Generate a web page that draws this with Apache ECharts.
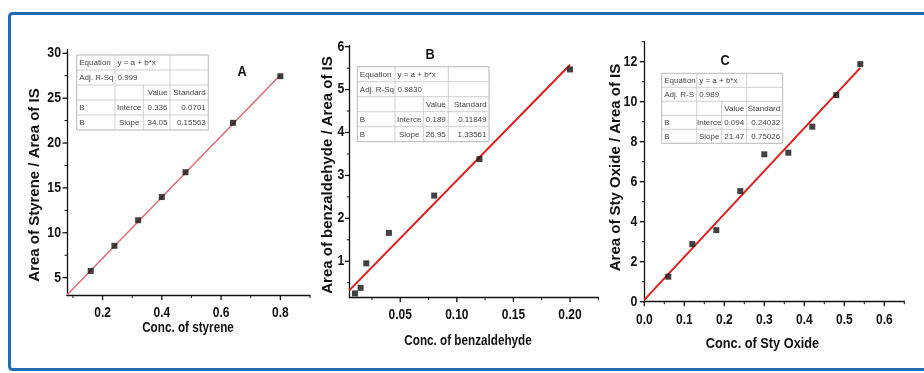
<!DOCTYPE html>
<html><head><meta charset="utf-8">
<script src="https://cdn.jsdelivr.net/npm/echarts@6/dist/echarts.min.js"></script>
<style>html,body{margin:0;padding:0;background:#fff}#c{width:924px;height:373px}</style>
</head><body><div id="c"></div>
<script>
// ---------- data ----------
const styreneConc  = [0.16, 0.24, 0.32, 0.40, 0.48, 0.64, 0.80];
const styreneRatio = [5.75, 8.55, 11.4, 13.98, 16.75, 22.25, 27.45];
const styreneFitX  = [0.08, 0.80];
const styreneFitY  = [3.06, 27.58];

const benzConc  = [0.010, 0.015, 0.020, 0.040, 0.080, 0.120, 0.200];
const benzRatio = [0.25, 0.38, 0.95, 1.66, 2.53, 3.38, 5.47];
const benzFitX  = [0.005, 0.20];
const benzFitY  = [0.32, 5.58];

const oxideConc  = [0.06, 0.12, 0.18, 0.24, 0.30, 0.36, 0.42, 0.48, 0.54];
const oxideRatio = [1.25, 2.88, 3.58, 5.53, 7.37, 7.45, 8.75, 10.33, 11.88];
const oxideFitX  = [0, 0.54];
const oxideFitY  = [0.094, 11.69];

// tick values
const ticksAx = [0.2, 0.4, 0.6, 0.8];
const minorAx = [0.1, 0.3, 0.5, 0.7, 0.9];
const ticksAy = [5, 10, 15, 20, 25, 30];
const minorAy = [7.5, 12.5, 17.5, 22.5, 27.5];
const ticksBx = [0.05, 0.10, 0.15, 0.20];
const minorBx = [0.025, 0.075, 0.125, 0.175, 0.225];
const ticksBy = [1, 2, 3, 4, 5, 6];
const minorBy = [0.5, 1.5, 2.5, 3.5, 4.5, 5.5];
const ticksCx = [0, 0.1, 0.2, 0.3, 0.4, 0.5, 0.6];
const minorCx = [0.05, 0.15, 0.25, 0.35, 0.45, 0.55, 0.65];
const ticksCy = [0, 2, 4, 6, 8, 10, 12];
const minorCy = [1, 3, 5, 7, 9, 11, 13];

// text
const panelLetters = ['A', 'B', 'C'];
const xTitles = ['Conc. of styrene', 'Conc. of benzaldehyde', 'Conc. of Sty Oxide'];
const yTitles = ['Area of Styrene / Area of IS', 'Area of benzaldehyde / Area of IS', 'Area of Sty Oxide / Area of IS'];

const tableA = [['Equation', 'y = a + b*x', '', ''], ['Adj. R-Sq', '0.999', '', ''], ['', '', 'Value', 'Standard'], ['B', 'Interce', '0.336', '0.0701'], ['B', 'Slope', '34.05', '0.15563']];
const tableB = [['Equation', 'y = a + b*x', '', ''], ['Adj. R-Sq', '0.9830', '', ''], ['', '', 'Value', 'Standard'], ['B', 'Interce', '0.189', '0.11849'], ['B', 'Slope', '26.95', '1.33561']];
const tableC = [['Equation', 'y = a + b*x', '', ''], ['Adj. R-S', '0.989', '', ''], ['', '', 'Value', 'Standard'], ['B', 'Interce', '0.094', '0.24032'], ['B', 'Slope', '21.47', '0.75026']];

// ---------- layout ----------
const FONT = "'Liberation Sans', Arial, sans-serif";
const grids = [
  {left: 67, top: 49.7, width: 243, height: 245.9},
  {left: 349.3, top: 45.4, width: 249, height: 252.3},
  {left: 644.3, top: 41.7, width: 260, height: 260}
];
const ranges = [
  {x: [0.08, 0.9], y: [3, 30.4]},
  {x: [0.005, 0.225], y: [0.15, 6.03]},
  {x: [0, 0.65], y: [0, 13]}
];
const majors = [[ticksAx, ticksAy], [ticksBx, ticksBy], [ticksCx, ticksCy]];
const minors = [[minorAx, minorAy], [minorBx, minorBy], [minorCx, minorCy]];
const xFmt = [v => v.toFixed(1), v => v.toFixed(2), v => v.toFixed(1)];
const xLabelMargin = [10, 10, 11];
const yLabelMargin = [6, 5, 7];
const xTitlePos = [[188, 327.5, 0.78], [468, 340.5, 0.78], [762.5, 343.5, 0.85]];
const yTitlePos = [[35, 185], [327.5, 175], [615.5, 167.5]];
const letterPos = [[242, 72], [430, 55], [725, 61]];

const gridOpt = grids.map(g => Object.assign({containLabel: false}, g));
const xAxes = [], yAxes = [];
for (let i = 0; i < 3; i++) {
  xAxes.push({
    type: 'value', gridIndex: i, min: ranges[i].x[0], max: ranges[i].x[1],
    splitLine: {show: false},
    axisLine: {show: true, onZero: false, lineStyle: {color: '#111', width: 1.3}},
    axisTick: {show: false}, axisLabel: {show: false}
  });
  yAxes.push({
    type: 'value', gridIndex: i, min: ranges[i].y[0], max: ranges[i].y[1],
    splitLine: {show: false},
    axisLine: {show: true, onZero: false, lineStyle: {color: '#111', width: 1.3}},
    axisTick: {show: false}, axisLabel: {show: false}
  });
}

function pairs(xs, ys) { return xs.map((x, k) => [x, ys[k]]); }

const series = [
  {type: 'line', xAxisIndex: 0, yAxisIndex: 0, data: pairs(styreneFitX, styreneFitY), symbol: 'none', lineStyle: {color: '#e46a6c', width: 1.5}, z: 2, silent: true},
  {type: 'line', xAxisIndex: 1, yAxisIndex: 1, data: pairs(benzFitX, benzFitY), symbol: 'none', lineStyle: {color: '#e31b1b', width: 2}, z: 2, silent: true},
  {type: 'line', xAxisIndex: 2, yAxisIndex: 2, data: pairs(oxideFitX, oxideFitY), symbol: 'none', lineStyle: {color: '#e31b1b', width: 2}, z: 2, silent: true},
  {type: 'scatter', xAxisIndex: 0, yAxisIndex: 0, data: pairs(styreneConc, styreneRatio), symbol: 'rect', symbolSize: 6, itemStyle: {color: '#111'}, z: 3},
  {type: 'scatter', xAxisIndex: 1, yAxisIndex: 1, data: pairs(benzConc, benzRatio), symbol: 'rect', symbolSize: 6, itemStyle: {color: '#111'}, z: 3},
  {type: 'scatter', xAxisIndex: 2, yAxisIndex: 2, data: pairs(oxideConc, oxideRatio), symbol: 'rect', symbolSize: 6, itemStyle: {color: '#111'}, z: 3}
];

const chart = echarts.init(document.getElementById('c'), null, {renderer: 'canvas'});
chart.setOption({
  animation: false,
  backgroundColor: '#fff',
  grid: gridOpt,
  xAxis: xAxes,
  yAxis: yAxes,
  series: series
});

// ---------- annotation tables (Origin fit report boxes) ----------
function buildTable(rows, cols, top, rowH) {
  const els = [];
  const left = cols[0], right = cols[cols.length - 1], bottom = top + rowH * rows.length;
  const line = '#c4c4c4';
  els.push({type: 'rect', shape: {x: left, y: top, width: right - left, height: bottom - top}, style: {fill: '#fff', stroke: '#b8b8b8', lineWidth: 1}, z: 10});
  for (let r = 1; r < rows.length; r++) {
    els.push({type: 'line', shape: {x1: left, y1: top + r * rowH, x2: right, y2: top + r * rowH}, style: {stroke: line, lineWidth: 0.8}, z: 11});
  }
  [1, 3].forEach(c => els.push({type: 'line', shape: {x1: cols[c], y1: top, x2: cols[c], y2: bottom}, style: {stroke: line, lineWidth: 0.8}, z: 11}));
  els.push({type: 'line', shape: {x1: cols[2], y1: top + 2 * rowH, x2: cols[2], y2: bottom}, style: {stroke: line, lineWidth: 0.8}, z: 11});
  rows.forEach((row, r) => {
    row.forEach((txt, c) => {
      if (!txt) return;
      let x, align;
      if (c === 0 || r < 2) { x = cols[c] + 2.5; align = 'left'; }
      else if (c === 1) { x = (cols[1] + cols[2]) / 2; align = 'center'; }
      else { x = cols[c + 1] - 2.5; align = 'right'; }
      els.push({type: 'text', x: x, y: top + r * rowH + rowH / 2 + 0.5, z: 12,
        style: {text: txt, fill: '#444', font: '8px ' + FONT, align: align, verticalAlign: 'middle'}});
    });
  });
  return els;
}

// ---------- ticks and tick labels placed through the axes' own scales ----------
const axisEls = [];
for (let i = 0; i < 3; i++) {
  const axisY = chart.convertToPixel({yAxisIndex: i}, ranges[i].y[0]);
  const axisX = chart.convertToPixel({xAxisIndex: i}, ranges[i].x[0]);
  majors[i][0].forEach(v => {
    const px = chart.convertToPixel({xAxisIndex: i}, v);
    axisEls.push({type: 'line', z: 5, shape: {x1: px, y1: axisY, x2: px, y2: axisY + 4.5}, style: {stroke: '#111', lineWidth: 1.3}});
    axisEls.push({type: 'text', z: 5, x: px, y: axisY + xLabelMargin[i], scaleX: 0.8,
      style: {text: xFmt[i](v), fill: '#111', font: 'bold 15px ' + FONT, align: 'center', verticalAlign: 'top'}});
  });
  minors[i][0].forEach(v => {
    const px = chart.convertToPixel({xAxisIndex: i}, v);
    axisEls.push({type: 'line', z: 5, shape: {x1: px, y1: axisY, x2: px, y2: axisY + 2.5}, style: {stroke: '#111', lineWidth: 1}});
  });
  majors[i][1].forEach(v => {
    const py = chart.convertToPixel({yAxisIndex: i}, v);
    axisEls.push({type: 'line', z: 5, shape: {x1: axisX - 4.5, y1: py, x2: axisX, y2: py}, style: {stroke: '#111', lineWidth: 1.3}});
    axisEls.push({type: 'text', z: 5, x: axisX - yLabelMargin[i], y: py, scaleX: 0.88,
      style: {text: String(v), fill: '#111', font: 'bold 14px ' + FONT, align: 'right', verticalAlign: 'middle'}});
  });
  minors[i][1].forEach(v => {
    const py = chart.convertToPixel({yAxisIndex: i}, v);
    axisEls.push({type: 'line', z: 5, shape: {x1: axisX - 2.5, y1: py, x2: axisX, y2: py}, style: {stroke: '#111', lineWidth: 1}});
  });
  axisEls.push({type: 'text', z: 5, x: xTitlePos[i][0], y: xTitlePos[i][1], scaleX: xTitlePos[i][2],
    style: {text: xTitles[i], fill: '#111', font: 'bold 15px ' + FONT, align: 'center', verticalAlign: 'middle'}});
  axisEls.push({type: 'text', z: 5, x: yTitlePos[i][0], y: yTitlePos[i][1], rotation: Math.PI / 2,
    style: {text: yTitles[i], fill: '#111', font: 'bold 15px ' + FONT, align: 'center', verticalAlign: 'middle'}});
  axisEls.push({type: 'text', z: 12, x: letterPos[i][0], y: letterPos[i][1], scaleX: 0.85,
    style: {text: panelLetters[i], fill: '#111', font: 'bold 15px ' + FONT, align: 'center', verticalAlign: 'middle'}});
}

const graphic = [
  {type: 'rect', shape: {x: 9.5, y: 13.5, width: 940, height: 356, r: 3}, style: {fill: 'none', stroke: '#1f6cb6', lineWidth: 3}, z: 20}
]
  .concat(buildTable(tableA, [76.7, 115, 143.3, 170, 208.3], 55, 15))
  .concat(buildTable(tableB, [357.3, 395, 423.3, 448.3, 489], 66.7, 15))
  .concat(buildTable(tableC, [661.7, 696.7, 721.7, 746.7, 782.7], 73.3, 14))
  .concat(axisEls);

chart.setOption({graphic: graphic});
</script>
</body></html>
